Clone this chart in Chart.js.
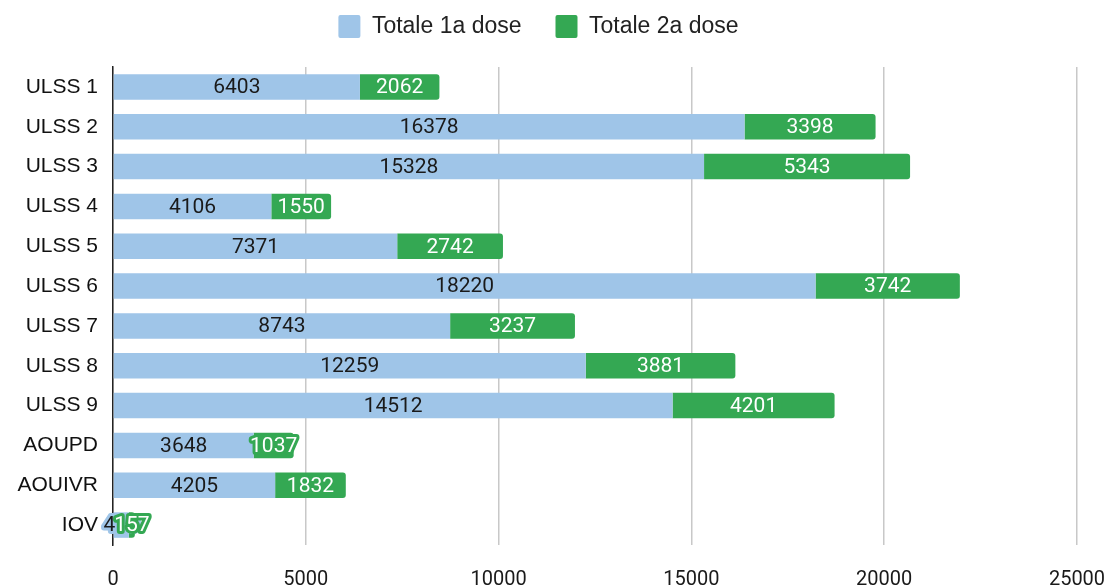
<!DOCTYPE html>
<html>
<head>
<meta charset="utf-8">
<script src="https://cdn.jsdelivr.net/npm/chart.js@4"></script>
<style>
  html, body { margin: 0; padding: 0; background: #fff; }
  #wrap { width: 1110px; height: 586px; position: relative; }
</style>
</head>
<body>
<div id="wrap"><canvas id="chart"></canvas></div>
<script>
// ── Data ─────────────────────────────────────────────────────────────────────
const CATEGORIES = ['ULSS 1', 'ULSS 2', 'ULSS 3', 'ULSS 4', 'ULSS 5', 'ULSS 6',
                    'ULSS 7', 'ULSS 8', 'ULSS 9', 'AOUPD', 'AOUIVR', 'IOV'];
const DOSE_1 = [6403, 16378, 15328, 4106, 7371, 18220, 8743, 12259, 14512, 3648, 4205, 410];
const DOSE_2 = [2062, 3398, 5343, 1550, 2742, 3742, 3237, 3881, 4201, 1037, 1832, 157];
const X_TICKS = [0, 5000, 10000, 15000, 20000, 25000];

const BLUE = '#9fc5e8';
const GREEN = '#34a853';
const LABEL_FONT = 'Roboto, "Open Sans", sans-serif';
const AXIS_FONT = '"Liberation Sans", Arial, sans-serif';

// value labels drawn in the middle of each segment; a halo in the bar colour
// when the text does not fit inside the segment
const bar_labels = {
  id: 'bar_labels',
  afterDatasetsDraw(chart) {
    const ctx = chart.ctx;
    ctx.save();
    ctx.font = '21px ' + LABEL_FONT;
    ctx.textAlign = 'center';
    ctx.textBaseline = 'middle';
    chart.data.datasets.forEach((ds, di) => {
      const meta = chart.getDatasetMeta(di);
      meta.data.forEach((bar, i) => {
        const txt = String(ds.data[i]);
        const cx = (bar.x + bar.base) / 2;
        const w = Math.abs(bar.x - bar.base);
        const tw = ctx.measureText(txt).width;
        if (tw > w - 4) {
          ctx.lineJoin = 'round';
          ctx.lineWidth = 6;
          ctx.strokeStyle = ds.backgroundColor;
          ctx.strokeText(txt, cx, bar.y + 1);
        }
        ctx.fillStyle = di === 0 ? '#1a1a1a' : '#ffffff';
        ctx.fillText(txt, cx, bar.y + 1);
      });
    });
    ctx.restore();
  }
};

// legend padding is wide to space the two items apart; fix its height and
// lift it back up so the items sit near the top edge
const legend_fix = {
  id: 'legend_fix',
  beforeInit(chart) {
    const orig_fit = chart.legend.fit;
    chart.legend.fit = function () {
      orig_fit.bind(chart.legend)();
      this.height = 67;
    };
  },
  afterLayout(chart) {
    chart.legend.top -= 19;
    chart.legend.bottom -= 19;
  }
};

new Chart(document.getElementById('chart'), {
  type: 'bar',
  data: {
    labels: CATEGORIES,
    datasets: [
      { label: 'Totale 1a dose', data: DOSE_1, backgroundColor: BLUE },
      { label: 'Totale 2a dose', data: DOSE_2, backgroundColor: GREEN, borderRadius: 3 },
    ],
  },
  options: {
    indexAxis: 'y',
    responsive: true,
    maintainAspectRatio: false,
    animation: false,
    barPercentage: 0.64,
    categoryPercentage: 1.0,
    layout: { padding: { top: 0, right: 33, left: 0, bottom: 0 } },
    plugins: {
      legend: {
        position: 'top',
        labels: {
          boxWidth: 22,
          boxHeight: 23,
          useBorderRadius: true,
          borderRadius: 2,
          color: '#222',
          padding: 34,
          font: { family: AXIS_FONT, size: 23 },
        },
      },
      tooltip: { enabled: false },
    },
    scales: {
      x: {
        stacked: true,
        min: 0,
        max: 25000,
        afterBuildTicks: axis => { axis.ticks = X_TICKS.map(v => ({ value: v })); },
        afterFit: axis => { axis.height = 41; },
        ticks: {
          color: '#1a1a1a',
          font: { family: LABEL_FONT, size: 20 },
          padding: 3,
          callback: v => String(v),
        },
        grid: {
          color: '#c8c8c8',
          lineWidth: 1.5,
          drawTicks: true,
          tickLength: 20,
          tickColor: 'rgba(0,0,0,0)',
        },
        border: { display: false },
      },
      y: {
        stacked: true,
        afterFit: axis => { axis.width = 113; },
        ticks: { color: '#111', font: { family: AXIS_FONT, size: 21 }, padding: 7 },
        grid: { display: false },
        border: { display: true, color: '#222', width: 1.5 },
      },
    },
  },
  plugins: [bar_labels, legend_fix],
});
</script>
</body>
</html>
